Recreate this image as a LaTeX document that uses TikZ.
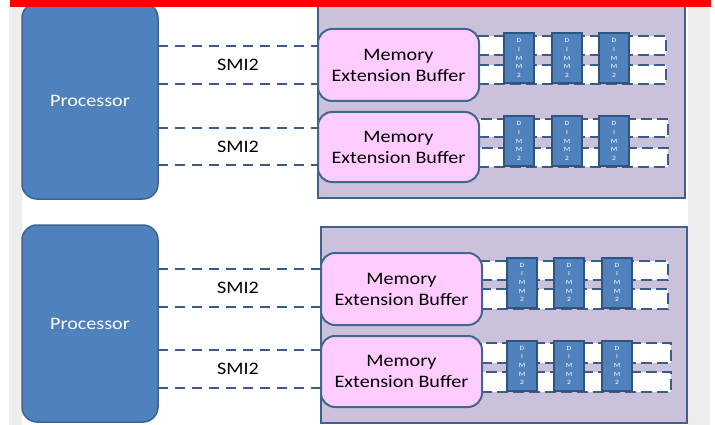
\documentclass[tikz,border=0pt]{standalone}
\usepackage{fontspec}
\setmainfont{Carlito}[FakeStretch=1.15]
\definecolor{procblue}{HTML}{4F81BD}
\definecolor{procborder}{HTML}{3C6391}
\definecolor{lav}{HTML}{CCC1DA}
\definecolor{panelborder}{HTML}{3F6190}
\definecolor{pinkfill}{HTML}{FFCCFF}
\definecolor{bufborder}{HTML}{41668F}
\definecolor{dashcol}{HTML}{3A5C8A}
\definecolor{dimmborder}{HTML}{2F5480}
\definecolor{stripgray}{HTML}{EDEDED}
\tikzset{
  every node/.style={inner sep=0pt, outer sep=0pt},
  proc/.style={rectangle, rounded corners=15pt, fill=procblue, draw=procborder, line width=1.5pt,
    text=white, font=\fontsize{17.5}{21}\selectfont},
  panel/.style={rectangle, fill=lav, draw=panelborder, line width=2pt},
  buffer/.style={rectangle, rounded corners=14pt, fill=pinkfill, draw=bufborder, line width=2pt,
    align=center, font=\fontsize{17.5}{21}\selectfont},
  smi/.style={draw=dashcol, line width=2.2pt, dash pattern=on 10pt off 7pt},
  chan/.style={rectangle, fill=white, draw=dashcol, line width=2.5pt, dash pattern=on 11pt off 5pt},
  dimm/.style={rectangle, fill=procblue, draw=dimmborder, line width=2pt, minimum width=30pt,
    minimum height=50pt, text=white, align=center, font=\fontsize{6.5}{8.7}\selectfont},
  lbl/.style={font=\fontsize{17.5}{21}\selectfont},
}
\begin{document}
\begin{tikzpicture}[x=1pt,y=-1pt]
\useasboundingbox (0,0) rectangle (715,425);
\fill[white] (0,0) rectangle (715,425);
\fill[stripgray] (9,7) rectangle (22,425);
\fill[stripgray] (688,7) rectangle (710,425);

% ---------- top group ----------
\node[panel, minimum width=367pt, minimum height=207pt] (L1) at (501.5,94.5) {};
\node[proc, minimum width=136pt, minimum height=196pt] (P1) at (90,101) {Processor};
% channels
\node[chan, minimum width=188pt, minimum height=19pt] (c11) at (572,45.5) {};
\node[chan, minimum width=188pt, minimum height=19pt] (c12) at (572,74.5) {};
\node[chan, minimum width=190pt, minimum height=18pt] (c21) at (573,128) {};
\node[chan, minimum width=190pt, minimum height=19pt] (c22) at (573,157.5) {};
\node[buffer, minimum width=161pt, minimum height=72pt] (B1) at (398.5,65) {Memory\\Extension Buffer};
\node[buffer, minimum width=161pt, minimum height=70pt] (B2) at (398.5,147) {Memory\\Extension Buffer};
\draw[smi] (P1.east |- 0,46) -- (B1.west |- 0,46);
\draw[smi] (P1.east |- 0,84) -- (B1.west |- 0,84);
\draw[smi] (P1.east |- 0,128) -- (B2.west |- 0,128);
\draw[smi] (P1.east |- 0,165) -- (B2.west |- 0,165);
\node[lbl] (s1) at (238,65) {SMI2};
\node[lbl] (s2) at (238,147) {SMI2};
\node[dimm] (d11) at (519,58) {D\\I\\M\\M\\2};
\node[dimm] (d12) at (567,58) {D\\I\\M\\M\\2};
\node[dimm] (d13) at (614,58) {D\\I\\M\\M\\2};
\node[dimm] (d21) at (519,141) {D\\I\\M\\M\\2};
\node[dimm] (d22) at (567,141) {D\\I\\M\\M\\2};
\node[dimm] (d23) at (614,141) {D\\I\\M\\M\\2};

% ---------- bottom group ----------
\node[panel, minimum width=366pt, minimum height=196pt] (L2) at (504,325) {};
\node[proc, minimum width=136pt, minimum height=197pt] (P2) at (90,323.5) {Processor};
\node[chan, minimum width=187pt, minimum height=19pt] (c31) at (574.5,270.5) {};
\node[chan, minimum width=187pt, minimum height=20pt] (c32) at (574.5,299) {};
\node[chan, minimum width=190pt, minimum height=20pt] (c41) at (576,353) {};
\node[chan, minimum width=190pt, minimum height=20pt] (c42) at (576,382) {};
\node[buffer, minimum width=161pt, minimum height=72pt] (B3) at (401.5,289) {Memory\\Extension Buffer};
\node[buffer, minimum width=161pt, minimum height=71pt] (B4) at (401.5,371.5) {Memory\\Extension Buffer};
\draw[smi] (P2.east |- 0,269) -- (B3.west |- 0,269);
\draw[smi] (P2.east |- 0,307) -- (B3.west |- 0,307);
\draw[smi] (P2.east |- 0,350) -- (B4.west |- 0,350);
\draw[smi] (P2.east |- 0,388) -- (B4.west |- 0,388);
\node[lbl] (s3) at (238,288) {SMI2};
\node[lbl] (s4) at (238,369) {SMI2};
\node[dimm] (d31) at (522,282.5) {D\\I\\M\\M\\2};
\node[dimm] (d32) at (569,282.5) {D\\I\\M\\M\\2};
\node[dimm] (d33) at (617,282.5) {D\\I\\M\\M\\2};
\node[dimm] (d41) at (522,365.5) {D\\I\\M\\M\\2};
\node[dimm] (d42) at (569,365.5) {D\\I\\M\\M\\2};
\node[dimm] (d43) at (617,365.5) {D\\I\\M\\M\\2};

% red bar on top
\fill[red] (10,0) rectangle (711,7);
\end{tikzpicture}
\end{document}
